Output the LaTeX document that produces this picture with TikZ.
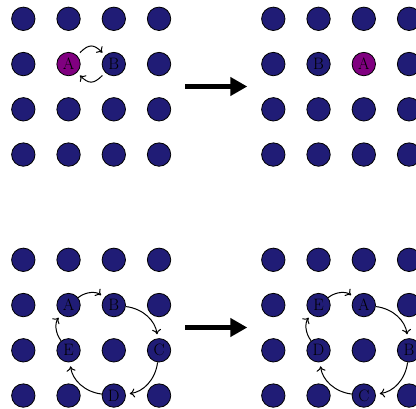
\documentclass[tikz,border=0pt]{standalone}
\usetikzlibrary{arrows.meta}
\definecolor{dotblue}{RGB}{32,28,118}
\definecolor{dotpurple}{RGB}{128,0,128}
\newcommand\dotrow[5]{%
  \foreach \s/\l [count=\c] in {#5}
    \node[\s] (#1-#2-\c) at ({#3+45.25*(\c-1)}, #4) {\l};}
\begin{document}
\begin{tikzpicture}[x=1pt,y=-1pt,
  dotn/.style={circle,draw=black,line width=0.8pt,fill=dotblue,minimum size=23.4pt,inner sep=0pt,font=\fontsize{16.5}{17}\selectfont},
  dotp/.style={dotn,fill=dotpurple},
  cyc/.style={-{To[length=5pt,width=9pt]},line width=1pt,shorten >=4pt},
  big/.style={-{Triangle[length=17pt,width=18pt]},line width=5pt}]
\useasboundingbox (0,0) rectangle (416,408);
\clip (0,0) rectangle (416,408);
% top left
\dotrow{tl}{1}{23.3}{18.8}{dotn/{},dotn/{},dotn/{},dotn/{}}
\dotrow{tl}{2}{23.3}{64.05}{dotn/{},dotp/A,dotn/B,dotn/{}}
\dotrow{tl}{3}{23.3}{109.3}{dotn/{},dotn/{},dotn/{},dotn/{}}
\dotrow{tl}{4}{23.3}{154.55}{dotn/{},dotn/{},dotn/{},dotn/{}}
% top right
\dotrow{tr}{1}{273.3}{18.8}{dotn/{},dotn/{},dotn/{},dotn/{}}
\dotrow{tr}{2}{273.3}{64.05}{dotn/{},dotn/B,dotp/A,dotn/{}}
\dotrow{tr}{3}{273.3}{109.3}{dotn/{},dotn/{},dotn/{},dotn/{}}
\dotrow{tr}{4}{273.3}{154.55}{dotn/{},dotn/{},dotn/{},dotn/{}}
% bottom left
\dotrow{bl}{1}{23.3}{259.8}{dotn/{},dotn/{},dotn/{},dotn/{}}
\dotrow{bl}{2}{23.3}{305.05}{dotn/{},dotn/A,dotn/B,dotn/{}}
\dotrow{bl}{3}{23.3}{350.3}{dotn/{},dotn/E,dotn/{},dotn/C}
\dotrow{bl}{4}{23.3}{395.55}{dotn/{},dotn/{},dotn/D,dotn/{}}
% bottom right
\dotrow{br}{1}{273.3}{259.8}{dotn/{},dotn/{},dotn/{},dotn/{}}
\dotrow{br}{2}{273.3}{305.05}{dotn/{},dotn/E,dotn/A,dotn/{}}
\dotrow{br}{3}{273.3}{350.3}{dotn/{},dotn/D,dotn/{},dotn/B}
\dotrow{br}{4}{273.3}{395.55}{dotn/{},dotn/{},dotn/C,dotn/{}}
% swap arrows
\draw[cyc,shorten <=4pt] (tl-2-2) to[bend left=45,looseness=1.5] (tl-2-3);
\draw[cyc,shorten <=4pt] (tl-2-3) to[bend left=45,looseness=1.5] (tl-2-2);
% cycles
\foreach \g in {bl,br}{
  \draw[cyc] (\g-2-2) to[bend left=38] (\g-2-3);
  \draw[cyc] (\g-2-3) to[bend left=38] (\g-3-4);
  \draw[cyc] (\g-3-4) to[bend left=38] (\g-4-3);
  \draw[cyc] (\g-4-3) to[bend left=38] (\g-3-2);
  \draw[cyc] (\g-3-2) to[bend left=38] (\g-2-2);
}
% big arrows
\coordinate (a1s) at (185,86.5);
\coordinate (a1e) at (247.3,86.5);
\coordinate (a2s) at (185,327.5);
\coordinate (a2e) at (247.3,327.5);
\draw[big] (a1s) -- (a1e);
\draw[big] (a2s) -- (a2e);
\end{tikzpicture}
\end{document}
